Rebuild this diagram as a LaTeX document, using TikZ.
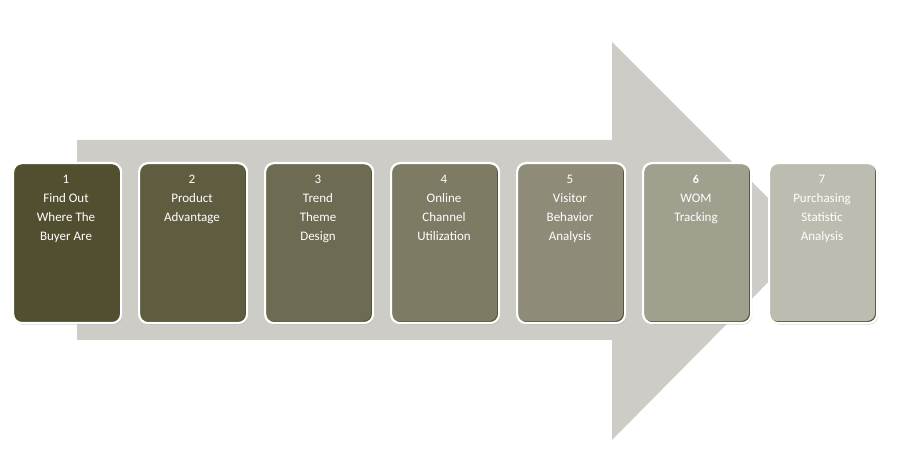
\documentclass[tikz,border=0pt]{standalone}
\usepackage{fontspec}
\setmainfont{Carlito}
\usetikzlibrary{shadows}
\definecolor{arrowgray}{RGB}{206,204,199}
\begin{document}
\begin{tikzpicture}[
    x=1pt, y=-1pt,
    step box/.style={rectangle, draw=white, line width=2.2pt, rounded corners=9pt,
        minimum width=108pt, minimum height=160pt, anchor=north west,
        drop shadow={shadow xshift=1pt, shadow yshift=-1.5pt, opacity=0.35}},
    step text/.style={text=white, align=center, anchor=north, font=\fontsize{13}{19}\selectfont}
]
\useasboundingbox (0,0) rectangle (906,454);

% Big background arrow
\fill[arrowgray] (77,140) -- (612,140) -- (612,42) -- (810,240) -- (612,440) -- (612,340) -- (77,340) -- cycle;

% Steps
\foreach \i/\mix/\txt in {1/0/{1\\Find Out\\Where The\\Buyer Are},
                          2/8/{2\\Product\\Advantage},
                          3/16/{3\\Trend\\Theme\\Design},
                          4/25/{4\\Online\\Channel\\Utilization},
                          5/35/{5\\Visitor\\Behavior\\Analysis},
                          6/46/{\textbf{\large 6}\\WOM\\Tracking},
                          7/62/{7\\Purchasing\\Statistic\\Analysis}} {
  \colorlet{boxfill}{arrowgray!\mix!black!55!olive!60!black}
  \node[step box, fill={rgb,255:red,82;green,79;blue,48}, fill opacity=1] (box\i) at ({12+126*(\i-1)},162) {};
  \fill[white, opacity={\mix/100}, rounded corners=8pt] ({13+126*(\i-1)},163) rectangle ({119+126*(\i-1)},321);
  \node[step text] (label\i) at ({66+126*(\i-1)},172) {\txt};
}
\end{tikzpicture}
\end{document}
